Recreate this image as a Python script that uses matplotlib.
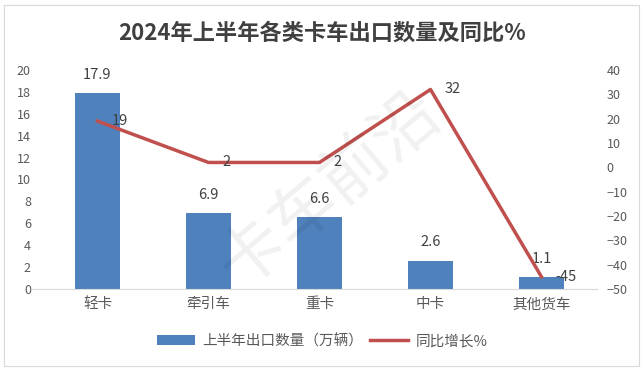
import matplotlib.pyplot as plt
from matplotlib.patches import Rectangle

plt.rcParams['font.family'] = ['Noto Sans CJK SC', 'DejaVu Sans']

categories = ["轻卡", "牵引车", "重卡", "中卡", "其他货车"]
exports = [17.9, 6.9, 6.6, 2.6, 1.1]
yoy = [19, 2, 2, 32, -45]

title = "2024年上半年各类卡车出口数量及同比%"
bar_name = "上半年出口数量（万辆）"
line_name = "同比增长%"

bar_color = "#4F81BD"
line_color = "#C0504D"
tick_color = "#595959"

fig = plt.figure(figsize=(6.44, 3.71), dpi=100)
# light outer border
fig.patches.append(Rectangle((4 / 644, 5 / 371), 635 / 644, 361 / 371,
                             transform=fig.transFigure, fill=False,
                             edgecolor="#D9D9D9", linewidth=0.8))

ax = fig.add_axes([42 / 644, 82 / 371, 555 / 644, 219 / 371])
x = list(range(len(categories)))
ax.bar(x, exports, width=0.4, color=bar_color, label=bar_name, zorder=2)
ax.set_ylim(0, 20)
ax.set_xlim(-0.5, len(categories) - 0.5)
ax.set_yticks(range(0, 21, 2))
ax.set_xticks(x)
ax.set_xticklabels(categories, fontsize=10.5, color=tick_color)
ax.tick_params(axis="y", labelsize=9, colors=tick_color, length=0, pad=8)
ax.tick_params(axis="x", length=0, pad=6)
for s in ["top", "right", "left"]:
    ax.spines[s].set_visible(False)
ax.spines["bottom"].set_color("#D9D9D9")
ax.spines["bottom"].set_bounds(-0.6, len(categories) - 0.5)
ax.spines["bottom"].set_clip_on(False)

for xi, v in zip(x, exports):
    ax.annotate(f"{v}", (xi, v), xytext=(0, 8), textcoords="offset points",
                ha="center", va="bottom", fontsize=10.5, color="#404040")

ax2 = ax.twinx()
ax2.plot(x, yoy, color=line_color, linewidth=2.5, label=line_name, zorder=3)
ax2.set_ylim(-50, 40)
ax2.set_yticks(range(-50, 41, 10))
ax2.tick_params(axis="y", labelsize=9, colors=tick_color, length=0, pad=7)
for s in ["top", "right", "left", "bottom"]:
    ax2.spines[s].set_visible(False)

for xi, v in zip(x, yoy):
    ax2.annotate(f"{v}", (xi, v), xytext=(10, 0), textcoords="offset points",
                 ha="left", va="center", fontsize=10.5, color="#404040")

fig.text(0.5, 1 - 33 / 371, title, ha="center", va="center", fontsize=16,
         fontweight="bold", color="#404040")

# faint watermark
fig.text(330 / 644, 1 - 190 / 371, "卡车前沿", ha="center", va="center",
         fontsize=48, rotation=40, color="#000000", alpha=0.06)

h1, l1 = ax.get_legend_handles_labels()
h2, l2 = ax2.get_legend_handles_labels()
fig.legend(h1 + h2, l1 + l2, loc="center", bbox_to_anchor=(0.5, 1 - 341 / 371),
           ncol=2, frameon=False, fontsize=10.5, labelcolor=tick_color,
           handlelength=2.6, columnspacing=0.5, handletextpad=0.5)

fig.savefig("out.png", dpi=100)
